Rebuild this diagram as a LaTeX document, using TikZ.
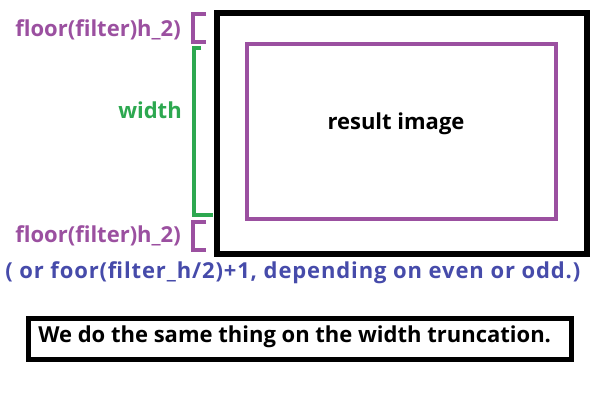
\documentclass[tikz,border=0pt]{standalone}
\usepackage{fontspec}
\setmainfont{Open Sans}
\definecolor{pur}{RGB}{155,80,160}
\definecolor{grn}{RGB}{45,168,80}
\definecolor{blu}{RGB}{70,75,170}
\begin{document}
\begin{tikzpicture}[x=0.75pt,y=-0.75pt,
  frame/.style={draw=black,line width=3.8pt},
  inner/.style={draw=pur,line width=3pt},
  brk/.style={line width=3pt},
  lbl/.style={font=\fontsize{16.5}{19}\selectfont\bfseries,inner sep=0pt},
]
\useasboundingbox (0,0) rectangle (616,411);
\node[frame,minimum width=370*0.75pt,minimum height=241*0.75pt,inner sep=0pt] (outer) at (402,133.5) {};
\node[inner,minimum width=309*0.75pt,minimum height=175*0.75pt,inner sep=0pt] (res) at (401.5,131.5) {};
\node[lbl] (rt) at (396,124) {result image};
% brackets
\coordinate (b1a) at (206,14);
\coordinate (b1b) at (206,42);
\draw[brk,draw=pur] (b1a) -- (193,14) -- (193,42) -- (b1b);
\coordinate (g1a) at (201,48);
\coordinate (g1b) at (213,215);
\draw[brk,draw=grn] (g1a) -- (194,48) -- (194,215) -- (g1b);
\coordinate (b2a) at (206,222);
\coordinate (b2b) at (206,250);
\draw[brk,draw=pur] (b2a) -- (193,222) -- (193,250) -- (b2b);
\node[lbl,text=pur,anchor=east] (t1) at (181,30) {floor(filter)h\_2)};
\node[lbl,text=grn,anchor=east] (tw) at (182,110) {width};
\node[lbl,text=pur,anchor=east] (t2) at (181,236) {floor(filter)h\_2)};
\node[lbl,text=blu,anchor=west,font=\fontsize{16.5}{19}\selectfont\bfseries\addfontfeature{LetterSpace=4}] (t3) at (5,273) {( or foor(filter\_h/2)+1, depending on even or odd.)};
\node[draw=black,line width=3.8pt,minimum width=543*0.75pt,minimum height=41*0.75pt,inner sep=0pt] (box) at (300,339) {};
\node[lbl,anchor=west] (bt) at (38,337) {We do the same thing on the width truncation.};
\end{tikzpicture}
\end{document}
